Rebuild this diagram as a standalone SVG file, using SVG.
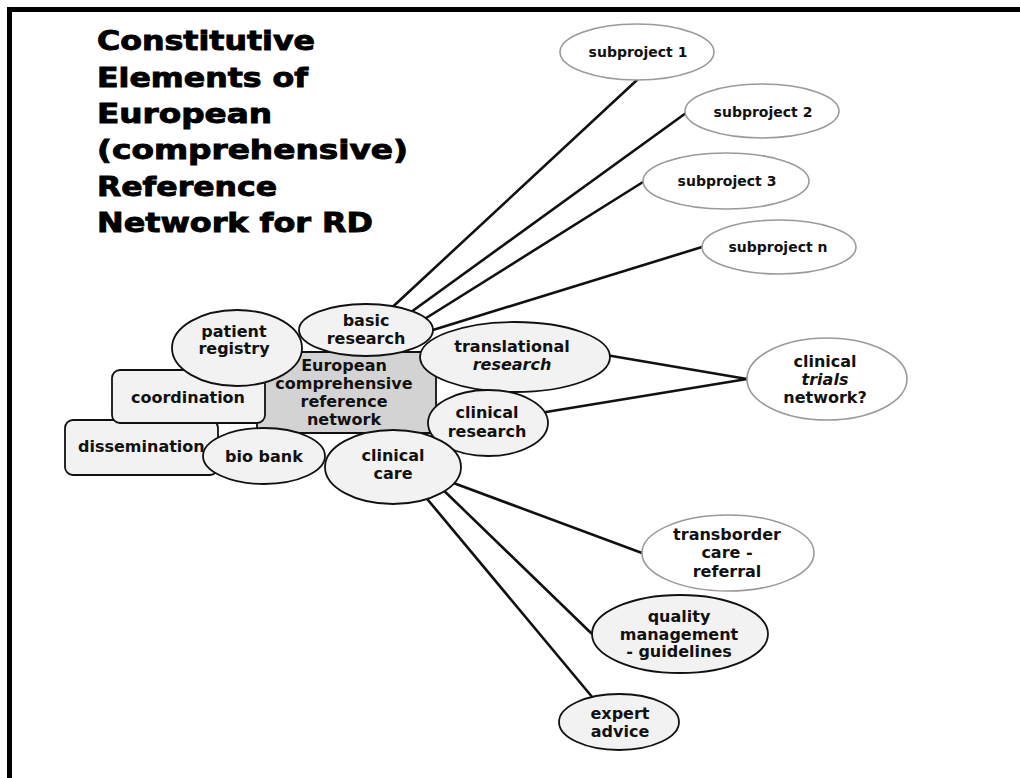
<svg xmlns="http://www.w3.org/2000/svg" width="1020" height="778" viewBox="0 0 1020 778">
<style>
.t{font-family:"DejaVu Sans","Liberation Sans",sans-serif;font-weight:bold;font-size:16px;fill:#111;text-anchor:middle}
.s{font-size:14px}
.ttl{font-family:"DejaVu Sans","Liberation Sans",sans-serif;font-weight:bold;font-size:26px;fill:#000;stroke:#000;stroke-width:0.9}
.in{fill:#f2f2f2;stroke:#111;stroke-width:1.8}
.out{fill:#fff;stroke:#9a9a9a;stroke-width:1.6}
.ln{stroke:#111;stroke-width:2.6;fill:none;stroke-linecap:round}
</style>
<rect width="1020" height="778" fill="#fff"/>
<g id="frame">
<rect x="7" y="7" width="1013" height="5" fill="#000"/>
<rect x="7" y="7" width="5" height="771" fill="#000"/>
</g>
<g id="title">
<text class="ttl" x="97" y="50" textLength="218" lengthAdjust="spacingAndGlyphs">Constitutive</text>
<text class="ttl" x="97" y="87" textLength="211" lengthAdjust="spacingAndGlyphs">Elements of</text>
<text class="ttl" x="97" y="123" textLength="175" lengthAdjust="spacingAndGlyphs">European</text>
<text class="ttl" x="97" y="159" textLength="311" lengthAdjust="spacingAndGlyphs">(comprehensive)</text>
<text class="ttl" x="97" y="196" textLength="180" lengthAdjust="spacingAndGlyphs">Reference</text>
<text class="ttl" x="97" y="232" textLength="276" lengthAdjust="spacingAndGlyphs">Network for RD</text>
</g>
<g id="connectors">
<line class="ln" x1="385" y1="314" x2="637" y2="80"/>
<line class="ln" x1="400" y1="320" x2="686" y2="113"/>
<line class="ln" x1="415" y1="325" x2="643" y2="182"/>
<line class="ln" x1="420" y1="334" x2="702" y2="247"/>
<line class="ln" x1="600" y1="354" x2="747" y2="379"/>
<line class="ln" x1="540" y1="413" x2="747" y2="379"/>
<line class="ln" x1="440" y1="478" x2="642" y2="553"/>
<line class="ln" x1="435" y1="482" x2="591" y2="633"/>
<line class="ln" x1="418" y1="488" x2="593" y2="698"/>
</g>
<g id="n-center">
<rect x="257" y="352" width="179" height="81" rx="3" fill="#d3d3d3" stroke="#111" stroke-width="1.8"/>
<text class="t" x="344" y="371">European</text>
<text class="t" x="344" y="389">comprehensive</text>
<text class="t" x="344" y="407">reference</text>
<text class="t" x="344" y="425">network</text>
</g>
<g id="n-dissemination">
<rect class="in" x="65" y="420" width="153" height="55" rx="8"/>
<text class="t" x="78" y="452" style="text-anchor:start">dissemination</text>
</g>
<g id="n-coordination">
<rect class="in" x="112" y="370" width="153" height="53" rx="8"/>
<text class="t" x="188" y="403">coordination</text>
</g>
<g id="n-patient">
<ellipse class="in" cx="237" cy="348" rx="65" ry="38"/>
<text class="t" x="234" y="337">patient</text>
<text class="t" x="234" y="354">registry</text>
</g>
<g id="n-basic">
<ellipse class="in" cx="366" cy="330" rx="67" ry="26"/>
<text class="t" x="366" y="326">basic</text>
<text class="t" x="366" y="344">research</text>
</g>
<g id="n-translational">
<ellipse class="in" cx="515" cy="357" rx="95" ry="35"/>
<text class="t" x="512" y="352">translational</text>
<text class="t" x="512" y="370" font-style="italic">research</text>
</g>
<g id="n-clinres">
<ellipse class="in" cx="488" cy="423" rx="60" ry="33"/>
<text class="t" x="487" y="418">clinical</text>
<text class="t" x="487" y="437">research</text>
</g>
<g id="n-biobank">
<ellipse class="in" cx="264" cy="456" rx="61" ry="28"/>
<text class="t" x="264" y="462">bio bank</text>
</g>
<g id="n-clincare">
<ellipse class="in" cx="393" cy="467" rx="68" ry="37"/>
<text class="t" x="393" y="461">clinical</text>
<text class="t" x="393" y="479">care</text>
</g>
<g id="n-sub1">
<ellipse class="out" cx="637" cy="52" rx="77" ry="28"/>
<text class="t s" x="638" y="57">subproject 1</text>
</g>
<g id="n-sub2">
<ellipse class="out" cx="762" cy="111" rx="77" ry="27"/>
<text class="t s" x="763" y="117">subproject 2</text>
</g>
<g id="n-sub3">
<ellipse class="out" cx="726" cy="181" rx="83" ry="28"/>
<text class="t s" x="727" y="186">subproject 3</text>
</g>
<g id="n-subn">
<ellipse class="out" cx="779" cy="247" rx="77" ry="27"/>
<text class="t s" x="778" y="252">subproject n</text>
</g>
<g id="n-trials">
<ellipse class="out" cx="827" cy="379" rx="80" ry="41"/>
<text class="t" x="825" y="367">clinical</text>
<text class="t" x="825" y="385" font-style="italic">trials</text>
<text class="t" x="825" y="403">network?</text>
</g>
<g id="n-transborder">
<ellipse class="out" cx="728" cy="553" rx="86" ry="38"/>
<text class="t" x="727" y="540">transborder</text>
<text class="t" x="727" y="558">care -</text>
<text class="t" x="727" y="577">referral</text>
</g>
<g id="n-quality">
<ellipse class="in" cx="680" cy="634" rx="88" ry="39"/>
<text class="t" x="679" y="622">quality</text>
<text class="t" x="679" y="640">management</text>
<text class="t" x="679" y="657">- guidelines</text>
</g>
<g id="n-expert">
<ellipse class="in" cx="619" cy="722" rx="60" ry="28"/>
<text class="t" x="620" y="719">expert</text>
<text class="t" x="620" y="737">advice</text>
</g>
</svg>
